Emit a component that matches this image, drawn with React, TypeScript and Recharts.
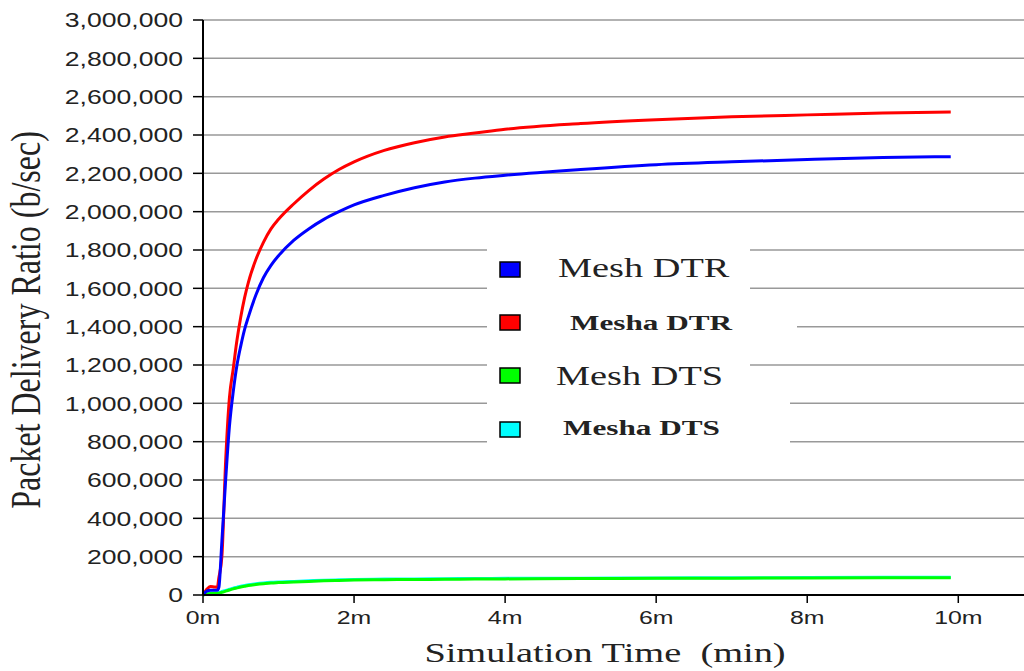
import React from "react";
import { LineChart, Line, XAxis, YAxis, CartesianGrid } from "recharts";

// simulation time in minutes
const times = [
  0, 0.05, 0.1, 0.15, 0.19, 0.21, 0.25, 0.3, 0.35, 0.4, 0.45, 0.5, 0.55, 0.6,
  0.7, 0.8, 0.9, 1.0, 1.2, 1.4, 1.6, 1.8, 2.0, 2.4, 2.8, 3.2, 3.6, 4, 5, 6, 7,
  8, 9, 9.9,
];

const meshDTR = [
  0, 20000, 25000, 25000, 25000, 40000, 280000, 600000, 880000, 1060000,
  1200000, 1300000, 1385000, 1450000, 1565000, 1655000, 1720000, 1770000,
  1850000, 1910000, 1960000, 2000000, 2035000, 2085000, 2125000, 2155000,
  2175000, 2190000, 2220000, 2245000, 2260000, 2272000, 2282000, 2287000,
];

const meshaDTR = [
  0, 30000, 45000, 42000, 40000, 90000, 200000, 700000, 1030000, 1180000,
  1330000, 1450000, 1550000, 1630000, 1750000, 1840000, 1910000, 1960000,
  2040000, 2110000, 2170000, 2220000, 2260000, 2320000, 2360000, 2390000,
  2410000, 2430000, 2460000, 2480000, 2495000, 2505000, 2515000, 2520000,
];

const meshDTS = [
  0, 5000, 8000, 8000, 8000, 10000, 14000, 20000, 26000, 32000, 37000, 42000,
  46000, 50000, 55000, 59000, 62000, 65000, 68000, 71000, 74000, 76000, 78000,
  80000, 81000, 82000, 83000, 84000, 86000, 87000, 88000, 89000, 90000, 90000,
];

const meshaDTS = [
  0, 6000, 10000, 10000, 10000, 13000, 18000, 24000, 30000, 36000, 41000,
  46000, 50000, 54000, 59000, 63000, 66000, 68000, 71000, 74000, 77000, 79000,
  81000, 83000, 84000, 85000, 86000, 87000, 88000, 89000, 90000, 91000, 92000,
  92000,
];

const xTicks = [0, 2, 4, 6, 8, 10];
const yTicks = [
  0, 200000, 400000, 600000, 800000, 1000000, 1200000, 1400000, 1600000,
  1800000, 2000000, 2200000, 2400000, 2600000, 2800000, 3000000,
];

const legendItems = [
  { name: "Mesh DTR", color: "#0000ff", bold: false },
  { name: "Mesha DTR", color: "#ff0000", bold: true },
  { name: "Mesh DTS", color: "#00ff00", bold: false },
  { name: "Mesha DTS", color: "#00ffff", bold: true },
];

const data = times.map((t, i) => ({
  t,
  meshDTR: meshDTR[i],
  meshaDTR: meshaDTR[i],
  meshDTS: meshDTS[i],
  meshaDTS: meshaDTS[i],
}));

const serif = "'Liberation Serif', 'Times New Roman', serif";
const sans = "'Liberation Sans', Arial, sans-serif";

const YTick = (props: any) => {
  const { x, y, payload } = props;
  return (
    <g transform={`translate(${x},${y})`}>
      <text
        transform="scale(1.33,1)"
        textAnchor="end"
        dy="0.36em"
        style={{ fontFamily: sans, fontSize: 20 }}
        fill="#222"
      >
        {Number(payload.value).toLocaleString("en-US")}
      </text>
    </g>
  );
};

const XTick = (props: any) => {
  const { x, y, payload } = props;
  return (
    <g transform={`translate(${x},${y})`}>
      <text
        transform="scale(1.38,1)"
        textAnchor="middle"
        dy={19}
        style={{ fontFamily: sans, fontSize: 18 }}
        fill="#222"
      >
        {payload.value + "m"}
      </text>
    </g>
  );
};

// legend rows: square top, text baseline, text x
const rowLayout = [
  { sq: 262, base: 277, tx: 558 },
  { sq: 315, base: 330, tx: 570 },
  { sq: 368, base: 385, tx: 556 },
  { sq: 422, base: 435, tx: 563 },
];

const App = () => {
  return (
    <div style={{ position: "absolute", left: 0, top: 0, width: 1024, height: 671, background: "#fff" }}>
      <LineChart
        width={1024}
        height={671}
        data={data}
        margin={{ top: 20, right: 0, left: 0, bottom: 36 }}
      >
        <CartesianGrid vertical={false} stroke="#999" strokeWidth={1.5} />
        <XAxis
          dataKey="t"
          type="number"
          domain={[0, 10.87]}
          ticks={xTicks}
          height={40}
          tickSize={8}
          tick={<XTick />}
          axisLine={{ stroke: "#000", strokeWidth: 2 }}
          tickLine={{ stroke: "#000", strokeWidth: 1.5 }}
        />
        <YAxis
          type="number"
          domain={[0, 3000000]}
          ticks={yTicks}
          interval={0}
          width={203}
          tickSize={10}
          tickMargin={10}
          tick={<YTick />}
          axisLine={{ stroke: "#000", strokeWidth: 2 }}
          tickLine={{ stroke: "#000", strokeWidth: 1.5 }}
        />
        <Line type="monotone" dataKey="meshaDTS" stroke="#00ffff" strokeWidth={3} dot={false} isAnimationActive={false} />
        <Line type="monotone" dataKey="meshDTS" stroke="#00ff00" strokeWidth={3} dot={false} isAnimationActive={false} />
        <Line type="monotone" dataKey="meshaDTR" stroke="#ff0000" strokeWidth={3} dot={false} isAnimationActive={false} />
        <Line type="monotone" dataKey="meshDTR" stroke="#0000ff" strokeWidth={3} dot={false} isAnimationActive={false} />
      </LineChart>

      <svg
        width={1024}
        height={671}
        style={{ position: "absolute", left: 0, top: 0, pointerEvents: "none" }}
      >
        {/* legend box pieces, covering the grid */}
        <rect x={487} y={243} width={263} height={57} fill="#fff" />
        <rect x={487} y={300} width={310} height={45} fill="#fff" />
        <rect x={487} y={345} width={263} height={40} fill="#fff" />
        <rect x={487} y={385} width={303} height={70} fill="#fff" />
        {legendItems.map((item, i) => (
          <g key={item.name}>
            <rect
              x={500}
              y={rowLayout[i].sq}
              width={20}
              height={15}
              fill={item.color}
              stroke="#000"
              strokeWidth={1.5}
            />
            <text
              transform={`translate(${rowLayout[i].tx},${rowLayout[i].base}) scale(1.42,1)`}
              style={{
                fontFamily: serif,
                fontSize: item.bold ? 22 : 27,
                fontWeight: item.bold ? "bold" : "normal",
              }}
              fill="#222"
            >
              {item.name}
            </text>
          </g>
        ))}

        <text
          transform="translate(40,320) scale(1.3,1) rotate(-90)"
          textAnchor="middle"
          style={{ fontFamily: serif, fontSize: 32 }}
          fill="#222"
        >
          Packet Delivery Ratio (b/sec)
        </text>
        <text
          transform="translate(605,662) scale(1.37,1)"
          textAnchor="middle"
          style={{ fontFamily: serif, fontSize: 28, whiteSpace: "pre" }}
          fill="#222"
        >
          {"Simulation Time  (min)"}
        </text>
      </svg>
    </div>
  );
};

export default App;
